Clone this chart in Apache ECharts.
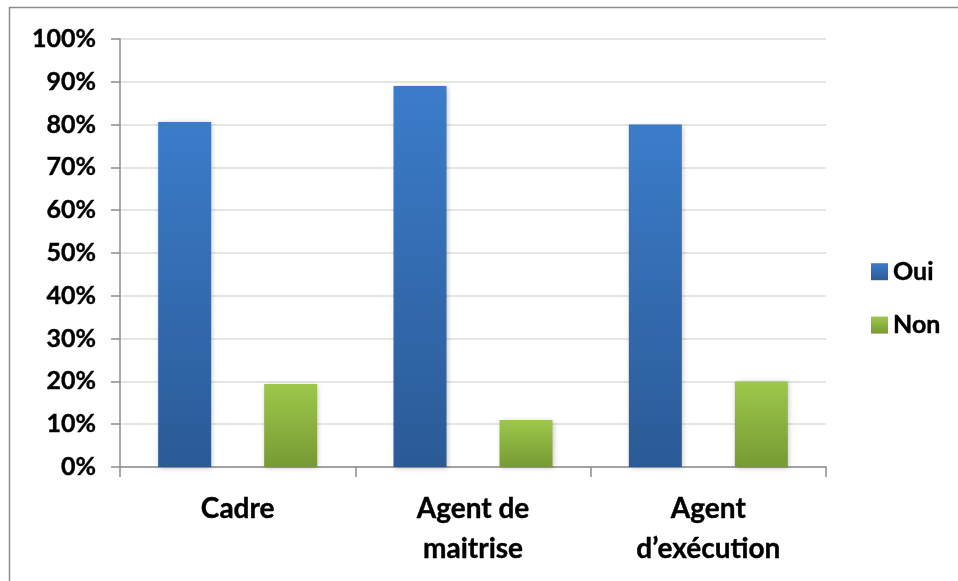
<!DOCTYPE html>
<html>
<head>
<meta charset="utf-8">
<script src="https://cdn.jsdelivr.net/npm/echarts@6/dist/echarts.min.js"></script>
<style>
  html, body { margin: 0; padding: 0; background: #fff; }
  #chart { width: 958px; height: 581px; }
</style>
</head>
<body>
<div id="chart"></div>
<script>
// Categories and shares (%) per answer
const categories = ['Cadre', 'Agent de\nmaitrise', 'Agent\nd\u2019exécution'];
const ouiValues = [80.6, 89, 80];
const nonValues = [19.4, 11, 20];
const seriesNames = ['Oui', 'Non'];

const FONT = 'Lato, "Liberation Sans", sans-serif';

function vGrad(top, bottom) {
  return new echarts.graphic.LinearGradient(0, 0, 0, 1, [
    { offset: 0, color: top },
    { offset: 1, color: bottom }
  ]);
}

const chart = echarts.init(document.getElementById('chart'), null, { renderer: 'canvas' });

chart.setOption({
  animation: false,
  backgroundColor: '#ffffff',
  graphic: [{
    type: 'rect',
    shape: { x: 9.5, y: 7.5, width: 1000, height: 1000 },
    style: { fill: 'none', stroke: '#8c8c8c', lineWidth: 1.5 },
    silent: true,
    z: 0
  }],
  grid: { left: 120, right: 132, top: 39, bottom: 114, containLabel: false },
  legend: {
    orient: 'vertical',
    left: 866,
    top: 254,
    itemWidth: 17,
    itemHeight: 17,
    itemGap: 28,
    icon: 'rect',
    textStyle: { fontFamily: FONT, fontWeight: 'bold', fontSize: 25, color: '#000',
                 textBorderColor: '#000', textBorderWidth: 0.4 },
    data: seriesNames
  },
  xAxis: {
    type: 'category',
    data: categories,
    axisLine: { lineStyle: { color: '#8c8c8c', width: 1.5 } },
    axisTick: { show: true, length: 10, alignWithLabel: false, lineStyle: { color: '#8c8c8c', width: 1.5 } },
    axisLabel: {
      margin: 22,
      fontFamily: FONT, fontWeight: 'bold', fontSize: 28, color: '#000',
      textBorderColor: '#000', textBorderWidth: 0.4,
      lineHeight: 40, interval: 0
    }
  },
  yAxis: {
    type: 'value',
    min: 0, max: 100, interval: 10,
    axisLine: { show: true, lineStyle: { color: '#8c8c8c', width: 1.5 } },
    axisTick: { show: true, length: 9, lineStyle: { color: '#8c8c8c', width: 1.5 } },
    splitLine: { lineStyle: { color: '#dcdcdc', width: 1.5 } },
    axisLabel: {
      margin: 24,
      formatter: '{value}%',
      fontFamily: FONT, fontWeight: 'bold', fontSize: 25, color: '#000',
      textBorderColor: '#000', textBorderWidth: 0.4
    }
  },
  series: [
    {
      name: seriesNames[0],
      type: 'bar',
      data: ouiValues,
      barWidth: 53,
      barGap: '100%',
      itemStyle: {
        color: vGrad('#3b7cca', '#2b5a96'),
        shadowColor: 'rgba(0,0,0,0.25)', shadowBlur: 5, shadowOffsetX: 1, shadowOffsetY: 1
      }
    },
    {
      name: seriesNames[1],
      type: 'bar',
      data: nonValues,
      barWidth: 53,
      itemStyle: {
        color: vGrad('#9dc84b', '#779a33'),
        shadowColor: 'rgba(0,0,0,0.25)', shadowBlur: 5, shadowOffsetX: 1, shadowOffsetY: 1
      }
    }
  ]
});
</script>
</body>
</html>
